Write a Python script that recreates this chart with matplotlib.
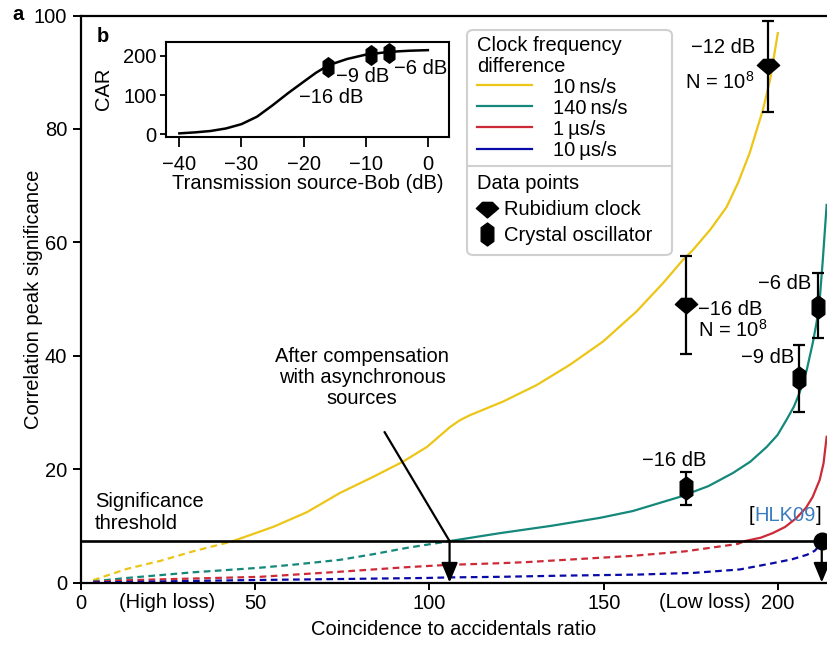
import numpy as np
import matplotlib
matplotlib.use("Agg")
from matplotlib import pyplot as plt
from matplotlib.path import Path
from matplotlib.lines import Line2D
from matplotlib.patches import FancyBboxPatch
from matplotlib.offsetbox import TextArea, HPacker, AnnotationBbox

FS = 14.5
plt.rcParams['font.family'] = ['Liberation Sans', 'DejaVu Sans']
plt.rcParams['font.size'] = FS
plt.rcParams['mathtext.fontset'] = 'custom'
plt.rcParams['mathtext.rm'] = 'Liberation Sans'
plt.rcParams['mathtext.it'] = 'Liberation Sans:italic'

# significance threshold
THR = 7.3

# theory curves (coincidence-to-accidentals ratio vs significance)
yellow_x = [3.6, 13.3, 22.8, 32.3, 41.9, 43.7, 55.2, 64.9, 74.4, 83.8, 92.4, 99.3, 105.9, 108.7,
            111.6, 121.1, 130.7, 140.3, 149.8, 159.4, 167.0, 172.7, 175.5, 180.5, 185.2, 188.5,
            191.8, 195.6, 197.8, 199.9]
yellow_y = [0.4, 2.4, 3.8, 5.5, 7.0, 7.3, 9.8, 12.4, 15.8, 18.6, 21.3, 23.9, 27.4, 28.6,
            29.5, 31.9, 34.8, 38.4, 42.5, 47.8, 52.8, 56.9, 58.6, 62.2, 66.2, 70.5,
            75.7, 83.3, 89.0, 96.9]
green_x = [3.6, 13.3, 22.8, 32.3, 41.9, 51.4, 62.0, 74.4, 84.0, 93.5, 105.8, 120.2, 135.0, 148.9,
           158.3, 171.8, 180.0, 187.0, 192.0, 196.7, 199.8, 202.4, 204.5, 206.1, 208.2, 209.9,
           211.0, 211.9, 212.8, 213.9]
green_y = [0.2, 0.8, 1.3, 1.8, 2.2, 2.6, 3.2, 4.0, 5.0, 6.1, 7.3, 8.7, 10.0, 11.4,
           12.6, 15.1, 17.0, 19.3, 21.3, 23.9, 26.0, 28.7, 31.0, 33.4, 37.5, 42.2,
           45.8, 49.8, 56.9, 66.6]
red_x = [3.6, 13.3, 32.3, 51.4, 74.4, 93.5, 105.0, 120.2, 128.0, 158.3, 173.4, 188.4, 190.4,
         195.0, 198.4, 202.0, 205.3, 208.0, 209.9, 211.9, 213.0, 213.9]
red_y = [0.1, 0.4, 0.7, 1.0, 1.9, 2.7, 3.1, 3.4, 3.6, 4.7, 5.5, 6.8, 7.3,
         7.9, 8.7, 9.8, 11.4, 13.2, 15.1, 18.1, 21.0, 25.7]
blue_x = [3.6, 45.7, 99.2, 105.9, 120.2, 137.4, 160.0, 175.8, 189.0, 198.4, 204.0, 208.3, 210.5,
          211.9, 212.5]
blue_y = [0.0, 0.4, 0.8, 0.9, 1.0, 1.2, 1.4, 1.7, 2.3, 3.4, 4.1, 4.9, 5.6, 6.6, 7.3]

curve_labels = ['10\u2009ns/s', '140\u2009ns/s', '1\u2009\u00b5s/s', '10\u2009\u00b5s/s']
curve_colors = ['#ecc516', '#14887a', '#cc2a36', '#0a0aa8']

# measured points
rb_x = [197.1, 173.5]
rb_y = [91.3, 49.2]
rb_lo = [83.0, 40.3]
rb_hi = [99.1, 57.6]
xo_x = [173.5, 206.1, 211.4]
xo_y = [16.7, 36.1, 48.6]
xo_lo = [13.7, 30.1, 43.2]
xo_hi = [19.5, 41.9, 54.5]
hlk_x = 212.5
hlk_y = 7.3

# inset: CAR vs transmission
car_x = [-40, -37.5, -35, -32.5, -30, -27.5, -25, -22.5, -20, -18, -16, -13, -10, -6.3, -3, 0]
car_y = [2.5, 5, 8.5, 15, 26, 45, 74, 105, 134, 157, 176, 192, 203, 210, 213, 214.5]
car_pts_x = [-16.0, -9.2, -6.3]
car_pts_y = [172, 201.8, 206]

# marker shapes
rb_marker = Path([(-1, 0), (-0.45, 0.55), (0.45, 0.55), (1, 0), (0, -0.85), (-1, 0)],
                 [Path.MOVETO] + [Path.LINETO] * 4 + [Path.CLOSEPOLY])
xo_marker = Path([(0, 1), (0.55, 0.6), (0.55, -0.6), (0, -1), (-0.55, -0.6), (-0.55, 0.6), (0, 1)],
                 [Path.MOVETO] + [Path.LINETO] * 5 + [Path.CLOSEPOLY])

W, H = 827, 646
fig = plt.figure(figsize=(W / 100, H / 100), dpi=100)
ax = fig.add_axes([80.5 / W, 1 - 582.5 / H, 1 - 80.5 / W, 567 / H])

lw = 1.6
for xs, ys, c in zip([yellow_x, green_x, red_x, blue_x], [yellow_y, green_y, red_y, blue_y], curve_colors):
    xs = np.array(xs)
    ys = np.array(ys)
    low = ys <= THR
    high = ys >= THR
    ax.plot(xs[low], ys[low], color=c, lw=lw, dashes=(3.0, 2.0))
    if high.sum() > 1:
        ax.plot(xs[high], ys[high], color=c, lw=lw)

ax.axhline(THR, color='k', lw=1.9, zorder=3)

# error bars + markers
ax.errorbar(rb_x, rb_y, yerr=[np.array(rb_y) - np.array(rb_lo), np.array(rb_hi) - np.array(rb_y)],
            fmt='none', ecolor='k', elinewidth=1.6, capsize=4.5, capthick=1.6, zorder=4)
ax.plot(rb_x, rb_y, ls='none', marker=rb_marker, ms=16, color='k', zorder=5)
ax.errorbar(xo_x, xo_y, yerr=[np.array(xo_y) - np.array(xo_lo), np.array(xo_hi) - np.array(xo_y)],
            fmt='none', ecolor='k', elinewidth=1.6, capsize=4.5, capthick=1.6, zorder=4)
ax.plot(xo_x, xo_y, ls='none', marker=xo_marker, ms=16.5, color='k', zorder=5)
ax.plot([hlk_x], [hlk_y], ls='none', marker='o', ms=12, color='k', zorder=5, clip_on=False)

# arrows
ax.plot([87.2, 105.8], [26.5, THR], color='k', lw=1.6, zorder=4)
arrow = dict(arrowstyle='-|>,head_length=0.6,head_width=0.25', color='k', lw=1.6,
             mutation_scale=20, shrinkA=0, shrinkB=0)
ax.annotate('', xy=(105.8, 0), xytext=(105.8, THR), arrowprops=arrow, zorder=4)
ax.annotate('', xy=(hlk_x, 0), xytext=(hlk_x, THR), arrowprops=arrow, zorder=4,
            annotation_clip=False)

ax.set_xlim(0, 214)
ax.set_ylim(0, 100)
ax.set_xticks([0, 50, 100, 150, 200])
ax.set_yticks([0, 20, 40, 60, 80, 100])
ax.spines['right'].set_visible(False)
for s in ['left', 'top', 'bottom']:
    ax.spines[s].set_linewidth(1.6)
ax.tick_params(axis='x', length=5, width=1.4, labelsize=FS)
ax.tick_params(axis='y', length=6, width=1.4, labelsize=FS)
ax.set_xlabel('Coincidence to accidentals ratio', fontsize=FS, labelpad=5)
ax.set_ylabel('Correlation peak significance', fontsize=FS)
ax.yaxis.set_label_coords(-0.05, 0.5)

# annotations
ax.text(80.7, 36.2, 'After compensation\nwith asynchronous\nsources', ha='center', va='center',
        fontsize=FS, linespacing=1.12)
ax.text(4.2, 12.3, 'Significance\nthreshold', ha='left', va='center', fontsize=FS, linespacing=1.2)
tr = ax.get_xaxis_transform()
ax.text(24.8, -0.036, '(High loss)', transform=tr, ha='center', va='center', fontsize=FS)
ax.text(178.9, -0.036, '(Low loss)', transform=tr, ha='center', va='center', fontsize=FS)
ax.text(193.3, 94.4, '\u221212 dB', ha='right', va='center', fontsize=FS)
ax.text(193.3, 88.3, 'N = 10$^8$', ha='right', va='center', fontsize=FS)
ax.text(177.0, 48.2, '\u221216 dB', ha='left', va='center', fontsize=FS)
ax.text(177.0, 44.5, 'N = 10$^8$', ha='left', va='center', fontsize=FS)
ax.text(170.3, 21.6, '\u221216 dB', ha='center', va='center', fontsize=FS)
ax.text(204.7, 39.6, '\u22129 dB', ha='right', va='center', fontsize=FS)
ax.text(209.6, 52.7, '\u22126 dB', ha='right', va='center', fontsize=FS)
hlk = HPacker(children=[TextArea('[', textprops=dict(fontsize=FS, color='k')),
                        TextArea('HLK09', textprops=dict(fontsize=FS, color='#3a7dbf')),
                        TextArea(']', textprops=dict(fontsize=FS, color='k'))],
              sep=0, pad=0, align='center')
ax.add_artist(AnnotationBbox(hlk, (212.4, 11.9), box_alignment=(1, 0.5), frameon=False,
                             pad=0, annotation_clip=False))

# legend
box = FancyBboxPatch((467 / W, 1 - 255 / H), 205 / W, 225 / H,
                     boxstyle='round,pad=0,rounding_size=0.008', transform=fig.transFigure,
                     facecolor='white', edgecolor='#d0d0d0', lw=1.5, zorder=3)
fig.patches.append(box)
fig.lines.append(Line2D([467 / W, 672 / W], [1 - 166 / H, 1 - 166 / H], transform=fig.transFigure,
                        color='#d0d0d0', lw=1.5, zorder=4))
h1 = [Line2D([], [], color=c, lw=lw) for c in curve_colors]
leg1 = fig.legend(h1, curve_labels, title='Clock frequency\ndifference', loc='upper left',
                  bbox_to_anchor=(477 / W, 1 - 36 / H), bbox_transform=fig.transFigure,
                  frameon=False, fontsize=FS, title_fontsize=FS, alignment='left',
                  handlelength=2.75, handletextpad=1.0, labelspacing=0.1, borderpad=0.0,
                  borderaxespad=0)
leg1.get_title().set_linespacing(1.1)
leg1.set_zorder(6)
h2 = [Line2D([], [], ls='none', marker=rb_marker, ms=16, color='k'),
      Line2D([], [], ls='none', marker=xo_marker, ms=16.5, color='k')]
leg2 = fig.legend(h2, ['Rubidium clock', 'Crystal oscillator'], title='Data points',
                  loc='upper left', bbox_to_anchor=(477 / W, 1 - 174 / H),
                  bbox_transform=fig.transFigure, frameon=False, fontsize=FS, title_fontsize=FS,
                  alignment='left', handlelength=1.0, handletextpad=0.35, labelspacing=0.35,
                  borderpad=0.0, borderaxespad=0)
leg2.set_zorder(6)

# inset
ins = fig.add_axes([165.7 / W, 1 - 136.7 / H, 283.3 / W, 95 / H])
ins.set_zorder(5)
ins.plot(car_x, car_y, color='k', lw=1.8)
ins.plot(car_pts_x, car_pts_y, ls='none', marker=xo_marker, ms=14, color='k')
ins.text(-15.6, 95, '\u221216 dB', ha='center', va='center', fontsize=FS)
ins.text(-10.5, 148, '\u22129 dB', ha='center', va='center', fontsize=FS)
ins.text(-1.2, 169, '\u22126 dB', ha='center', va='center', fontsize=FS)
ins.set_xlim(-42.2, 3.4)
ins.set_ylim(-6, 236)
ins.set_xticks([-40, -30, -20, -10, 0])
ins.set_yticks([0, 100, 200])
for s in ins.spines.values():
    s.set_linewidth(1.5)
ins.tick_params(axis='x', length=7, width=1.3, labelsize=FS, pad=6)
ins.tick_params(axis='y', length=4.5, width=1.3, labelsize=FS, pad=2)
ins.set_xlabel('Transmission source-Bob (dB)', fontsize=FS, labelpad=0)
ins.set_ylabel('CAR', fontsize=FS)
ins.yaxis.set_label_coords(-0.185, 0.5)

fig.text(12 / W, 1 - 15 / H, 'a', fontsize=FS, fontweight='bold', ha='left', va='center')
fig.text(97 / W, 1 - 36 / H, 'b', fontsize=FS, fontweight='bold', ha='left', va='center')

fig.savefig('out.png', dpi=100)
